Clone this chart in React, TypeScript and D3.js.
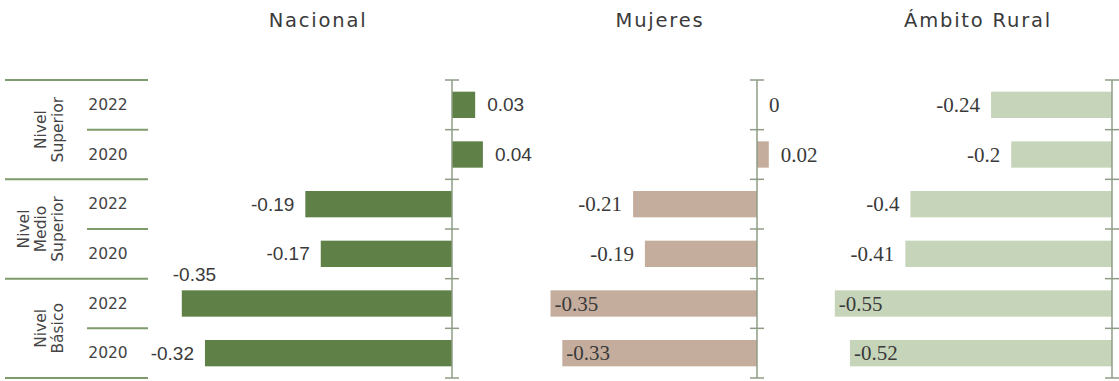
import React from "react";
import * as d3 from "d3";

// ---------- data ----------
const levels = ["Nivel Superior", "Nivel Medio Superior", "Nivel Básico"];
const years = ["2022", "2020"];
const rowKeys = levels.flatMap((l) => years.map((y) => `${l}|${y}`));

const nacional = [0.03, 0.04, -0.19, -0.17, -0.35, -0.32];
const mujeres = [0, 0.02, -0.21, -0.19, -0.35, -0.33];
const rural = [-0.24, -0.2, -0.4, -0.41, -0.55, -0.52];

const panelTitles = ["Nacional", "Mujeres", "Ámbito Rural"];

// ---------- layout / style ----------
const W = 1119;
const H = 381;
const TOP = 80;
const BOTTOM = 378;

const panels = [
  {
    title: panelTitles[0],
    values: nacional,
    domain: [-0.38, 0.05],
    range: [452 - 0.38 * 772, 452 + 0.05 * 772],
    color: "#5f8046",
    font: "'Liberation Sans', Arial, sans-serif",
    fontSize: 19,
    overflow: "above",
    leftBound: 140,
    titleX: 318,
  },
  {
    title: panelTitles[1],
    values: mujeres,
    domain: [-0.36, 0.05],
    range: [757 - 0.36 * 590, 757 + 0.05 * 590],
    color: "#c5ad9d",
    font: "'Liberation Serif', 'Times New Roman', serif",
    fontSize: 21,
    overflow: "inside",
    leftBound: 545,
    titleX: 660,
  },
  {
    title: panelTitles[2],
    values: rural,
    domain: [-0.56, 0],
    range: [1112 - 0.56 * 504, 1112],
    color: "#c6d5b9",
    font: "'Liberation Serif', 'Times New Roman', serif",
    fontSize: 21,
    overflow: "inside",
    leftBound: 830,
    titleX: 978,
  },
];

const titleFont = "'DejaVu Sans', sans-serif";
const axisColor = "#8e9c86";
const ruleColor = "#7e9b6b";
const textColor = "#3a3a3a";

let ctx: CanvasRenderingContext2D | null = null;
function measure(text: string, font: string): number {
  if (!ctx) ctx = document.createElement("canvas").getContext("2d");
  if (!ctx) return text.length * 10;
  ctx.font = font;
  return ctx.measureText(text).width;
}

export default function App() {
  const y = d3
    .scaleBand<string>()
    .domain(rowKeys)
    .range([TOP, BOTTOM])
    .paddingInner(0.47)
    .paddingOuter(0.235);
  const step = y.step();
  const boundaries = d3.range(rowKeys.length + 1).map((i) => TOP + i * step);

  const fmt = (v: number) => String(v);

  return (
    <svg
      width={W}
      height={H}
      style={{ position: "absolute", left: 0, top: 0, background: "#fff" }}
    >
      {/* left category rules */}
      {boundaries.map((b, i) => (
        <line
          key={`r${i}`}
          x1={i % 2 === 0 ? 5 : 87}
          x2={148}
          y1={b}
          y2={b}
          stroke={ruleColor}
          strokeWidth={2}
        />
      ))}
      {/* year labels */}
      {rowKeys.map((k) => (
        <text
          key={`y${k}`}
          x={108}
          y={(y(k) as number) + y.bandwidth() / 2}
          textAnchor="middle"
          dominantBaseline="central"
          fontFamily={titleFont}
          fontSize={15.5}
          fill="#444"
        >
          {k.split("|")[1]}
        </text>
      ))}
      {/* level labels (rotated) */}
      {levels.map((l, i) => {
        const cy = TOP + (i * 2 + 1) * step;
        const words = l === "Nivel Medio Superior" ? ["Nivel", "Medio", "Superior"] : l.split(" ");
        const lh = 17;
        const lastBase = 63;
        return (
          <text
            key={`l${l}`}
            transform={`translate(0,${cy}) rotate(-90)`}
            textAnchor="middle"
            fontFamily={titleFont}
            fontSize={15.5}
            fill="#444"
          >
            {words.map((w, j) => (
              <tspan key={w} x={0} y={lastBase - (words.length - 1 - j) * lh}>
                {w}
              </tspan>
            ))}
          </text>
        );
      })}

      {panels.map((p, pi) => {
        const x = d3.scaleLinear().domain(p.domain).range(p.range);
        const x0 = x(0);
        const font = `${p.fontSize}px ${p.font}`;
        return (
          <g key={`p${pi}`}>
            <text
              x={p.titleX}
              y={27}
              textAnchor="middle"
              fontFamily={titleFont}
              fontSize={19.5}
              letterSpacing={1.8}
              fill={textColor}
            >
              {p.title}
            </text>
            {p.values.map((v, i) => {
              const k = rowKeys[i];
              const yy = y(k) as number;
              const bx = Math.min(x(v), x0);
              const bw = Math.abs(x(v) - x0);
              return (
                <rect
                  key={`b${i}`}
                  x={bx}
                  y={yy}
                  width={bw}
                  height={y.bandwidth()}
                  fill={p.color}
                />
              );
            })}
            {/* axis */}
            <line x1={x0} x2={x0} y1={TOP} y2={BOTTOM} stroke={axisColor} strokeWidth={1.5} />
            {boundaries.map((b, i) => (
              <line
                key={`t${i}`}
                x1={x0 - 7}
                x2={x0 + 7}
                y1={b}
                y2={b}
                stroke={axisColor}
                strokeWidth={1.5}
              />
            ))}
            {p.values.map((v, i) => {
              const k = rowKeys[i];
              const yy = y(k) as number;
              const cy = yy + y.bandwidth() / 2;
              const label = fmt(v);
              const tw = measure(label, font);
              let tx: number;
              let ty = cy;
              let anchor = "start";
              if (v >= 0) {
                tx = x(v) + 12;
              } else {
                const left = x(v) - 11;
                if (left - tw >= p.leftBound) {
                  tx = left;
                  anchor = "end";
                } else if (p.overflow === "above") {
                  tx = x(v) - 9;
                  ty = yy - 16;
                } else {
                  tx = x(v) + 4;
                }
              }
              return (
                <text
                  key={`v${i}`}
                  x={tx}
                  y={ty}
                  textAnchor={anchor}
                  dominantBaseline="central"
                  fontFamily={p.font}
                  fontSize={p.fontSize}
                  fill={textColor}
                >
                  {label}
                </text>
              );
            })}
          </g>
        );
      })}
    </svg>
  );
}
